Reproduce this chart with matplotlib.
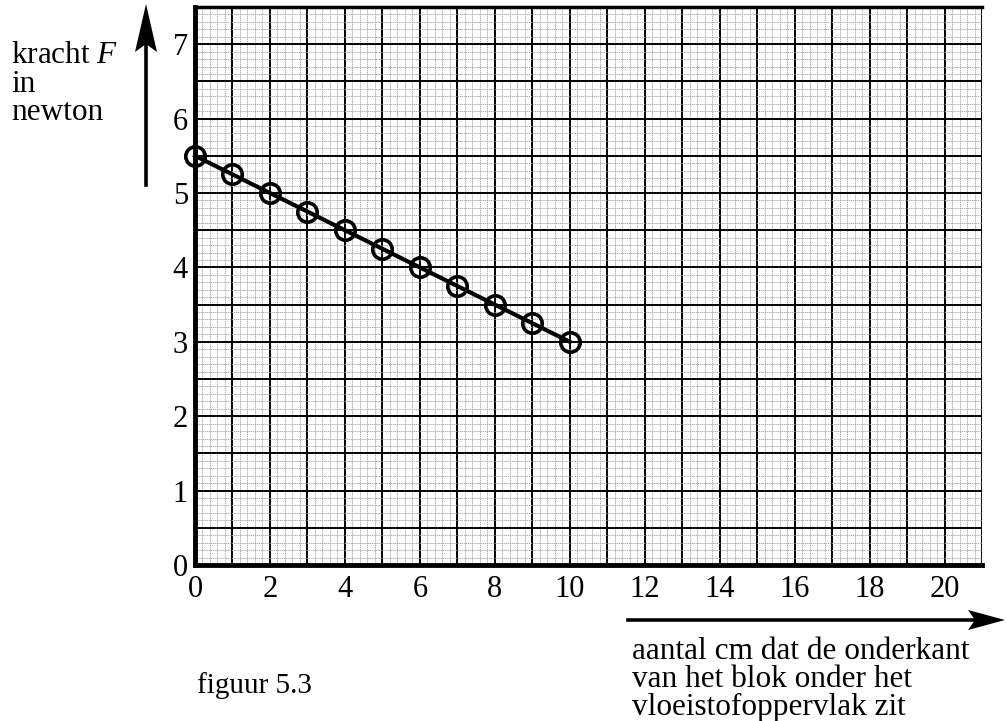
import matplotlib
matplotlib.use("Agg")
import matplotlib.pyplot as plt
from matplotlib.ticker import MultipleLocator, FuncFormatter
from matplotlib.patches import Polygon
from matplotlib.lines import Line2D

plt.rcParams['font.family'] = ['Liberation Serif', 'DejaVu Serif']
plt.rcParams['mathtext.fontset'] = 'custom'
plt.rcParams['mathtext.rm'] = 'Liberation Serif'
plt.rcParams['mathtext.it'] = 'Liberation Serif:italic'

# data
depth_cm = [0, 1, 2, 3, 4, 5, 6, 7, 8, 9, 10]
force_N = [5.5, 5.25, 5.0, 4.75, 4.5, 4.25, 4.0, 3.75, 3.5, 3.25, 3.0]
x_ticks = [0, 2, 4, 6, 8, 10, 12, 14, 16, 18, 20]
y_ticks = [0, 1, 2, 3, 4, 5, 6, 7]

W, H = 1006, 721
fig = plt.figure(figsize=(W / 100, H / 100), dpi=100)
ax = fig.add_axes([195 / W, 1 - 565 / H, (982 - 195) / W, (565 - 7) / H])
ax.set_xlim(0, 21)
ax.set_ylim(0, 7.5)

# graph paper grid
ax.xaxis.set_major_locator(MultipleLocator(1))
ax.yaxis.set_major_locator(MultipleLocator(0.5))
ax.xaxis.set_minor_locator(MultipleLocator(0.2))
ax.yaxis.set_minor_locator(MultipleLocator(0.1))
ax.grid(which='minor', color='#a2a2a2', lw=0.6, ls=(0, (1.5, 0.8)))
ax.grid(which='major', color='black', lw=1.4)
ax.set_axisbelow(True)
ax.tick_params(which='both', length=0)
ax.tick_params(axis='both', labelsize=22)
ax.tick_params(axis='x', pad=7)
ax.tick_params(axis='y', pad=5)
ax.xaxis.set_major_formatter(FuncFormatter(
    lambda v, p: f"{int(round(v))}" if any(abs(v - t) < 1e-6 for t in x_ticks) else ""))
ax.yaxis.set_major_formatter(FuncFormatter(
    lambda v, p: f"{int(round(v))}" if any(abs(v - t) < 1e-6 for t in y_ticks) else ""))

for s in ['left', 'bottom']:
    ax.spines[s].set_linewidth(3.5)
ax.spines['top'].set_linewidth(2.5)
ax.spines['right'].set_visible(False)

ax.plot(depth_cm, force_N, color='black', lw=3, marker='o', ms=14,
        mfc='none', mec='black', mew=2.6, clip_on=False, zorder=5)


def fx(px):
    return px / W


def fy(py):
    return 1 - py / H


# vertical axis arrow
fig.add_artist(Line2D([fx(146), fx(146)], [fy(185), fy(30)], transform=fig.transFigure,
                      color='black', lw=2.6))
fig.add_artist(Polygon([(fx(146), fy(4)), (fx(157), fy(52)), (fx(146), fy(44)),
                        (fx(135), fy(52))], closed=True, transform=fig.transFigure,
                       color='black', lw=0))
# horizontal axis arrow
fig.add_artist(Line2D([fx(628), fx(985)], [fy(620), fy(620)], transform=fig.transFigure,
                      color='black', lw=2.6))
fig.add_artist(Polygon([(fx(1005), fy(620)), (fx(968), fy(630)), (fx(975), fy(620)),
                        (fx(968), fy(610))], closed=True, transform=fig.transFigure,
                       color='black', lw=0))

lab_fs = 22.5
fig.text(fx(11), fy(63), "kracht $\\mathit{F}$", fontsize=lab_fs, va='baseline', ha='left')
fig.text(fx(11), fy(92), "in", fontsize=lab_fs, va='baseline', ha='left')
fig.text(fx(11), fy(120), "newton", fontsize=lab_fs, va='baseline', ha='left')

fig.text(fx(632), fy(659), "aantal cm dat de onderkant", fontsize=lab_fs,
         va='baseline', ha='left')
fig.text(fx(632), fy(687), "van het blok onder het", fontsize=lab_fs,
         va='baseline', ha='left')
fig.text(fx(632), fy(715), "vloeistofoppervlak zit", fontsize=lab_fs,
         va='baseline', ha='left')

fig.text(fx(197), fy(693), "figuur 5.3", fontsize=21, va='baseline', ha='left')

fig.savefig("out.png", dpi=100)
